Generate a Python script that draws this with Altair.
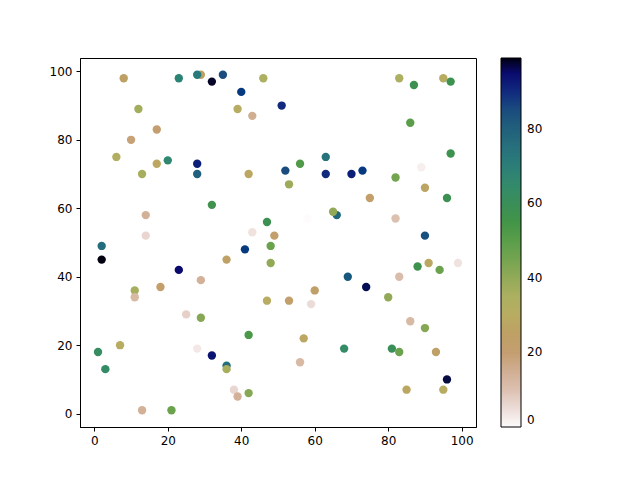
import altair as alt
import pandas as pd

xs = [8, 23, 29, 28, 32, 35, 40, 46, 51, 12, 39, 43, 17, 10, 6, 20, 17, 28, 28, 13,
      42, 32, 14, 47, 14, 43, 49, 2, 41, 48, 83, 87, 95, 97, 86, 97, 63, 56, 52, 63,
      70, 73, 89, 82, 53, 90, 75, 96, 58, 66, 65, 82, 90, 2, 36, 48, 23, 29, 18, 11,
      11, 47, 25, 29, 42, 7, 1, 28, 32, 3, 36, 36, 38, 39, 42, 13, 21, 88, 91, 94,
      99, 69, 83, 74, 80, 60, 53, 59, 86, 90, 57, 68, 81, 83, 93, 56, 96, 85, 95]
ys = [98, 98, 99, 99, 97, 99, 94, 98, 90, 89, 89, 87, 83, 80, 75, 74, 73, 73, 70, 70,
      70, 61, 58, 56, 52, 53, 52, 49, 48, 49, 98, 96, 98, 97, 85, 76, 75, 73, 71, 70,
      70, 71, 72, 69, 67, 66, 63, 63, 57, 58, 59, 57, 52, 45, 45, 44, 42, 39, 37, 36,
      34, 33, 29, 28, 23, 20, 18, 19, 17, 13, 14, 13, 7, 5, 6, 1, 1, 43, 44, 42,
      44, 40, 40, 37, 34, 36, 33, 32, 27, 25, 22, 19, 19, 18, 18, 15, 10, 7, 7]
cs = [25, 68, 25, 72, 98, 85, 88, 35, 90, 37, 30, 15, 20, 19, 33, 66, 28, 92, 80, 36,
      28, 56, 14, 58, 6, 4, 22, 76, 88, 47, 35, 58, 30, 57, 50, 57, 74, 52, 85, 90,
      92, 88, 2, 45, 38, 27, 22, 58, 0, 78, 40, 10, 84, 99, 24, 40, 95, 14, 22, 36,
      12, 30, 7, 42, 53, 30, 62, 3, 94, 63, 76, 36, 6, 14, 42, 14, 47, 57, 28, 47,
      4, 82, 11, 96, 40, 23, 22, 5, 12, 42, 28, 63, 60, 47, 24, 12, 97, 28, 30]

df = pd.DataFrame({"x": xs, "y": ys, "c": cs, "i": list(range(len(xs)))})

stops = [0, 5, 10, 15, 20, 25, 30, 35, 40, 45, 50, 55, 60, 65, 70, 75, 80, 85, 90, 95, 99]
colors = ["#fdfbfb", "#ecdcd8", "#dcc0b0", "#d0ae92", "#c49e70", "#bea064", "#b8ac62",
          "#acb060", "#92aa58", "#74a450", "#5a9e4a", "#429448", "#3a8e58", "#328a6c",
          "#2c7e78", "#27707c", "#21607c", "#1a4c7e", "#112a7e", "#0a0a6e", "#000010"]

lo, hi = -3.9, 103.9
ax = dict(values=[0, 20, 40, 60, 80, 100], title=None, grid=False,
          tickSize=4, labelFontSize=12, labelFont="DejaVu Sans",
          labelColor="black", tickColor="black", domainColor="black", labelPadding=4)
chart = alt.Chart(df).mark_circle(size=70, opacity=1).encode(
    x=alt.X("x:Q", scale=alt.Scale(domain=[lo, hi], nice=False, zero=False), axis=alt.Axis(**ax)),
    y=alt.Y("y:Q", scale=alt.Scale(domain=[lo, hi], nice=False, zero=False), axis=alt.Axis(**ax)),
    color=alt.Color("c:Q", scale=alt.Scale(domain=stops, range=colors),
                    legend=alt.Legend(orient="none", legendX=421, legendY=0, title=None,
                                      gradientLength=369, gradientThickness=20,
                                      direction="vertical", values=[0, 20, 40, 60, 80],
                                      labelFontSize=12, labelFont="DejaVu Sans", labelColor="black",
                                      labelBaseline="middle",
                                      gradientStrokeColor="black", gradientStrokeWidth=1,
                                      labelOffset=6)),
    order=alt.Order("i:Q"),
).properties(
    width=396, height=369,
    autosize=alt.AutoSizeParams(type="none"),
    padding={"left": 72, "top": 50, "right": 150, "bottom": 40},
).configure_view(stroke="black", strokeWidth=1)

chart.save("out.html", embed_options={"renderer": "svg", "actions": False})
